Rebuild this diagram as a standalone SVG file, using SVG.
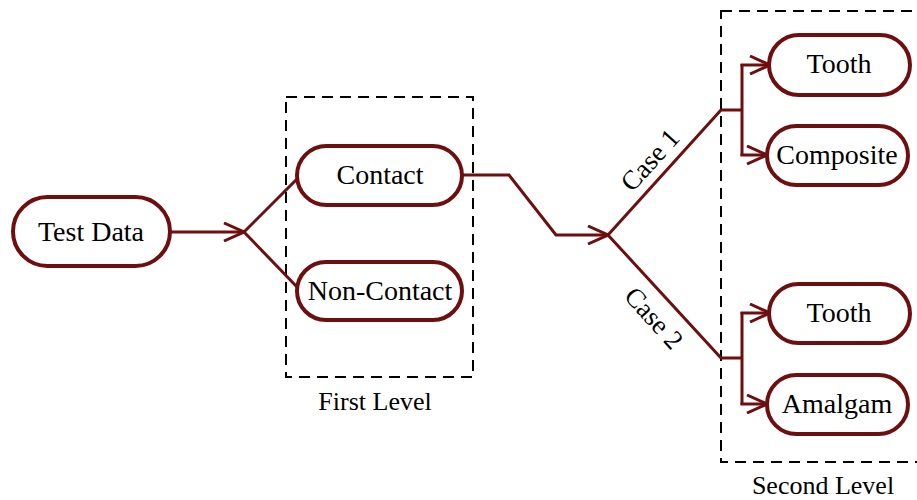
<svg xmlns="http://www.w3.org/2000/svg" width="917" height="500" viewBox="0 0 917 500">
  <style>
    .node { fill: #ffffff; stroke: #6e0e0e; stroke-width: 4; }
    .lbl { font-family: "Liberation Serif", "Times New Roman", serif; font-size: 28px; fill: #000000; text-anchor: middle; }
    .case { font-family: "Liberation Serif", "Times New Roman", serif; font-size: 27px; fill: #000000; text-anchor: middle; }
    .wire { fill: none; stroke: #6e0e0e; stroke-width: 3; stroke-linejoin: miter; }
    .frame { fill: none; stroke: #000000; stroke-width: 2; stroke-dasharray: 11 7; }
  </style>
  <defs>
    <marker id="chev" viewBox="0 0 22 20" refX="21" refY="10" markerWidth="22" markerHeight="20" markerUnits="userSpaceOnUse" orient="auto">
      <path d="M1,1 L21,10 L1,19" fill="none" stroke="#6e0e0e" stroke-width="3"/>
    </marker>
  </defs>

  <rect width="917" height="500" fill="#ffffff"/>

  <!-- grouping frames -->
  <g id="first-level">
    <rect class="frame" x="286" y="97" width="187" height="280"/>
    <text class="lbl" x="375" y="410" style="font-size:26px">First Level</text>
  </g>
  <g id="second-level">
    <rect class="frame" x="721" y="11" width="210" height="451"/>
    <text class="lbl" x="823" y="494" style="font-size:26px">Second Level</text>
  </g>

  <!-- connectors -->
  <g id="connectors">
    <path class="wire" d="M170,232 L244,232" marker-end="url(#chev)"/>
    <path class="wire" d="M244,232 L298,178"/>
    <path class="wire" d="M244,232 L298,288"/>
    <path class="wire" d="M462,175 L509,175 L556,235 L608,235" marker-end="url(#chev)"/>
    <path class="wire" d="M608,235 L721,110 L742,110"/>
    <path class="wire" d="M608,235 L721,358 L742,358"/>
    <path class="wire" d="M742,64 L742,156"/>
    <path class="wire" d="M740.5,65 L770,65" marker-end="url(#chev)"/>
    <path class="wire" d="M740.5,155 L767,155" marker-end="url(#chev)"/>
    <path class="wire" d="M742,312 L742,405"/>
    <path class="wire" d="M740.5,313 L770,313" marker-end="url(#chev)"/>
    <path class="wire" d="M740.5,404 L767,404" marker-end="url(#chev)"/>
    <text class="case" transform="translate(650,160) rotate(-48)" y="9">Case 1</text>
    <text class="case" transform="translate(654,318) rotate(48)" y="9">Case 2</text>
  </g>

  <!-- nodes -->
  <g id="test-data">
    <rect class="node" x="13" y="197" width="157" height="69" rx="34.5"/>
    <text class="lbl" x="91" y="241">Test Data</text>
  </g>
  <g id="contact">
    <rect class="node" x="297" y="146" width="165" height="59" rx="29.5"/>
    <text class="lbl" x="380" y="184">Contact</text>
  </g>
  <g id="non-contact">
    <rect class="node" x="297" y="262" width="165" height="58" rx="29"/>
    <text class="lbl" x="380" y="300">Non-Contact</text>
  </g>
  <g id="tooth-1">
    <rect class="node" x="769" y="35" width="141" height="60" rx="30"/>
    <text class="lbl" x="839" y="73">Tooth</text>
  </g>
  <g id="composite">
    <rect class="node" x="767" y="126" width="141" height="59" rx="29.5"/>
    <text class="lbl" x="837" y="164">Composite</text>
  </g>
  <g id="tooth-2">
    <rect class="node" x="769" y="284" width="141" height="59" rx="29.5"/>
    <text class="lbl" x="839" y="322">Tooth</text>
  </g>
  <g id="amalgam">
    <rect class="node" x="767" y="375" width="141" height="59" rx="29.5"/>
    <text class="lbl" x="837" y="413">Amalgam</text>
  </g>
</svg>
